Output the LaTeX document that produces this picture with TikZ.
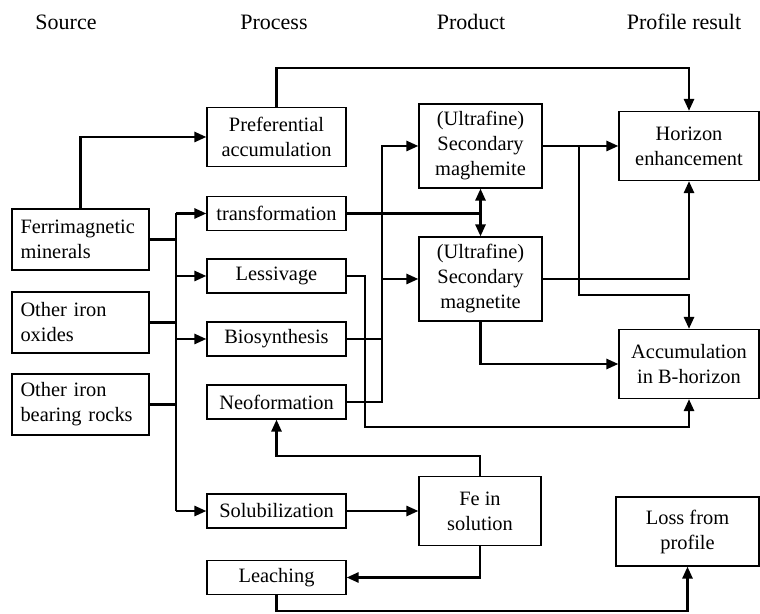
\documentclass[tikz,border=0pt]{standalone}
\usepackage{fontspec}
\setmainfont{Liberation Serif}
\usetikzlibrary{arrows.meta}

\begin{document}
\begin{tikzpicture}[x=0.5pt,y=-0.5pt,
  every node/.style={font=\fontsize{10.2}{12.5}\selectfont},
  blk/.style={draw,line width=0.6pt,inner sep=0pt,align=center},
  srcbox/.style={blk,text width=60pt,align=left,minimum width=68.5pt,minimum height=30.5pt},
  procbox/.style={blk,minimum width=69.5pt,minimum height=17pt},
  prodbox/.style={blk,minimum width=61.5pt,minimum height=42pt},
  resbox/.style={blk,minimum width=70pt,minimum height=34.5pt},
  head/.style={font=\fontsize{11}{13}\selectfont},
  wire/.style={line width=1.3pt},
  conn/.style={wire,-{Triangle[length=6pt,width=5pt]}}]
\useasboundingbox (0,0) rectangle (760,614);
% column heads
\node[head] (hsrc) at (66,22) {Source};
\node[head] (hproc) at (274,22) {Process};
\node[head] (hprod) at (471,22) {Product};
\node[head] (hres) at (684,22) {Profile result};
% sources
\node[srcbox] (ferri) at (80.5,239.5) {Ferrimagnetic\\minerals};
\node[srcbox] (oxides) at (80.5,322.5) {Other iron\\oxides};
\node[srcbox] (rocks) at (80.5,404.5) {Other iron\\bearing rocks};
% processes
\node[blk,minimum width=69.5pt,minimum height=29.5pt] (pref) at (276.5,137) {Preferential\\accumulation};
\node[procbox] (transf) at (276.5,213.5) {transformation};
\node[procbox] (lessiv) at (276.5,276) {Lessivage};
\node[procbox] (biosyn) at (276.5,339) {Biosynthesis};
\node[procbox] (neofor) at (276.5,402) {Neoformation};
\node[procbox] (soluble) at (276.5,511) {Solubilization};
\node[procbox] (leach) at (276.5,577.5) {Leaching};
% products
\node[prodbox] (maghem) at (480.5,146) {(Ultrafine)\\Secondary\\maghemite};
\node[prodbox] (magnet) at (480.5,279) {(Ultrafine)\\Secondary\\magnetite};
\node[blk,minimum width=61pt,minimum height=34.5pt] (fesol) at (480,511) {Fe in\\solution};
% profile results
\node[resbox] (horizon) at (689,146) {Horizon\\enhancement};
\node[resbox] (accum) at (689,364) {Accumulation\\in B-horizon};
\node[blk,minimum width=71.5pt,minimum height=34.5pt] (loss) at (687.5,531.5) {Loss from\\profile};
% buses
\coordinate (trunk) at (176,0);
\coordinate (pbus) at (382,0);
\coordinate (lcorner) at (365,427);
\coordinate (mbr) at (579,295);
% source side
\draw[conn] (ferri.north) |- (pref.west);
\draw[wire] (ferri.east) -- (ferri.east -| trunk);
\draw[wire] (oxides.east) -- (oxides.east -| trunk);
\draw[wire] (rocks.east) -- (rocks.east -| trunk);
\draw[wire] (transf.west -| trunk) -- (soluble.west -| trunk);
\draw[conn] (transf.west -| trunk) -- (transf.west);
\draw[conn] (lessiv.west -| trunk) -- (lessiv.west);
\draw[conn] (biosyn.west -| trunk) -- (biosyn.west);
\draw[conn] (soluble.west -| trunk) -- (soluble.west);
% process to product
\draw[conn] (pref.north) -- ++(0,-39) -| (horizon.north);
\draw[wire] (transf.east) -- (transf.east -| maghem.south);
\draw[conn,{Triangle[length=6pt,width=5pt]}-{Triangle[length=6pt,width=5pt]}] (maghem.south) -- (magnet.north);
\draw[wire] (biosyn.east) -- (biosyn.east -| pbus);
\draw[conn] (neofor.east) -| (maghem.west -| pbus) -- (maghem.west);
\draw[conn] (magnet.west -| pbus) -- (magnet.west);
\draw[conn] (lessiv.east) -| (lcorner) -| (accum.south);
% product to result
\draw[conn] (maghem.east) -- (horizon.west);
\draw[conn] (maghem.east -| mbr) -- (mbr) -| (accum.north);
\draw[conn] (magnet.east) -| (horizon.south);
\draw[conn] (magnet.south) |- (accum.west);
% solution loop
\draw[conn] (soluble.east) -- (fesol.west);
\draw[conn] (fesol.north) -- ++(0,-20) -| (neofor.south);
\draw[conn] (fesol.south) |- (leach.east);
\draw[conn] (leach.south) -- ++(0,16) -| (loss.south);
\end{tikzpicture}
\end{document}
